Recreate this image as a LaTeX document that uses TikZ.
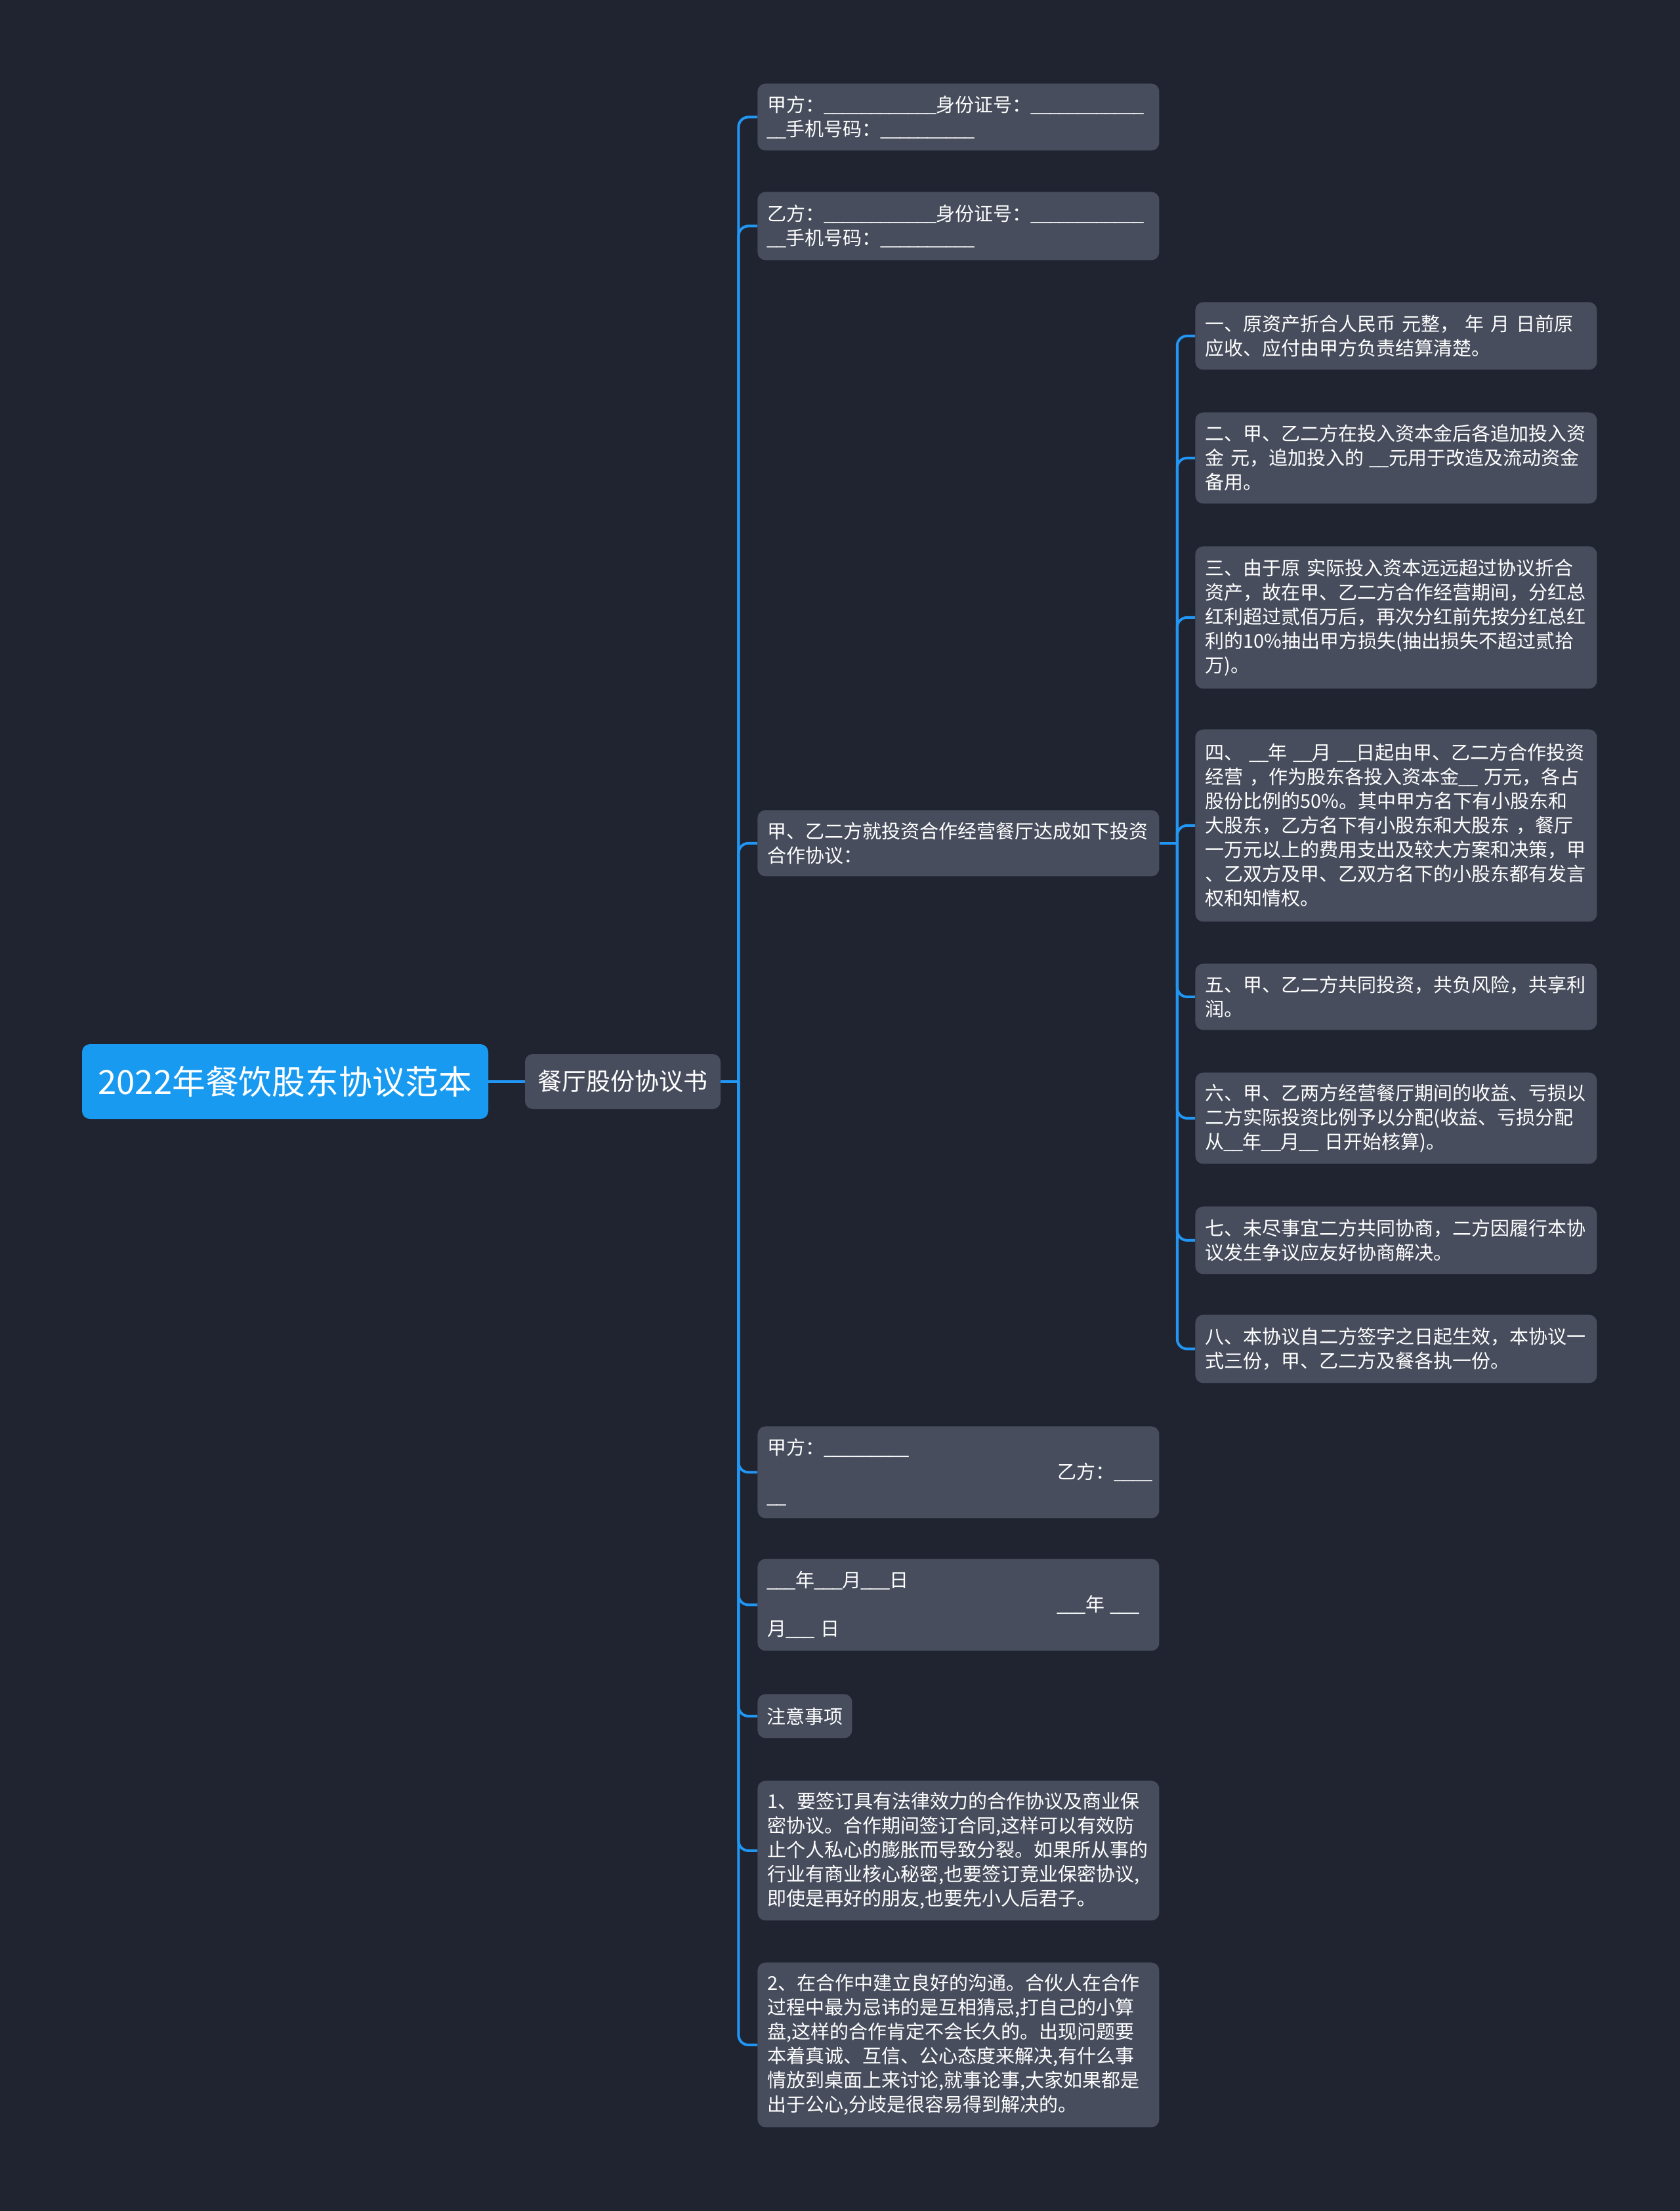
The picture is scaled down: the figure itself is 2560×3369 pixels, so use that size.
\documentclass[tikz,border=0pt]{standalone}
\usepackage{fontspec}
\setmainfont{Noto Sans CJK SC}
\definecolor{bgc}{RGB}{32,35,48}
\definecolor{nodegrey}{RGB}{71,77,93}
\definecolor{rootblue}{RGB}{24,154,240}
\definecolor{linkblue}{RGB}{33,150,243}
\newcommand\usc{\makebox[0.49em]{\_}}
\ExplSyntaxOn
\cs_new:Npn \blank #1 { \prg_replicate:nn {#1} {\usc} }
\ExplSyntaxOff
\tikzset{
  box/.style={fill=nodegrey, rounded corners=6pt, text=white, anchor=north west,
    inner xsep=7.5pt, inner ysep=0pt, align=left, text width=291pt,
    font=\fontsize{14.5pt}{18.5pt}\selectfont},
  conn/.style={draw=linkblue, line width=2pt, rounded corners=7.5pt},
}
\begin{document}
\begin{tikzpicture}[x=0.5pt,y=-0.5pt]
\fill[bgc] (0,0) rectangle (2560,3369);
\useasboundingbox (0,0) rectangle (2560,3369);

\node[fill=rootblue, rounded corners=6pt, text=white, minimum width=309.5pt, minimum height=57pt,
  inner sep=0pt, font=\fontsize{25.4pt}{30pt}\selectfont] (root) at (434.5,1648) {2022年餐饮股东协议范本};
\node[fill=nodegrey, rounded corners=6pt, text=white, minimum width=149pt, minimum height=42pt,
  inner sep=0pt, font=\fontsize{18.5pt}{22pt}\selectfont] (l1) at (949,1648) {餐厅股份协议书};

% level 2
\node[box, minimum height=51pt] (a) at (1154,127) {甲方：\blank{12}身份证号：\blank{12}\\\blank{2}手机号码：\blank{10}};
\node[box, minimum height=52pt] (b) at (1154,292) {乙方：\blank{12}身份证号：\blank{12}\\\blank{2}手机号码：\blank{10}};
\node[box, minimum height=50.5pt] (c) at (1154,1234) {甲、乙二方就投资合作经营餐厅达成如下投资\\合作协议：};
\node[box, minimum height=70pt] (d) at (1154,2173) {甲方：\blank{9}\\\hspace*{221pt}乙方：\blank{4}\\\blank{2}};
\node[box, minimum height=70pt] (e) at (1154,2375) {\blank{3}年\blank{3}月\blank{3}日\\\hspace*{221pt}\blank{3}年~\blank{3}\\月\blank{3}~日};
\node[box, text width=, inner xsep=7pt, minimum height=33.5pt] (f) at (1154,2581) {注意事项};
\node[box, minimum height=106.5pt] (g) at (1154,2713) {1、要签订具有法律效力的合作协议及商业保\\密协议。合作期间签订合同,这样可以有效防\\止个人私心的膨胀而导致分裂。如果所从事的\\行业有商业核心秘密,也要签订竞业保密协议,\\即使是再好的朋友,也要先小人后君子。};
\node[box, minimum height=125.5pt] (h) at (1154,2990) {2、在合作中建立良好的沟通。合伙人在合作\\过程中最为忌讳的是互相猜忌,打自己的小算\\盘,这样的合作肯定不会长久的。出现问题要\\本着真诚、互信、公心态度来解决,有什么事\\情放到桌面上来讨论,就事论事,大家如果都是\\出于公心,分歧是很容易得到解决的。};

% level 3
\node[box, minimum height=51.5pt] (c1) at (1821,460) {一、原资产折合人民币~元整，~年~月~日前原\\应收、应付由甲方负责结算清楚。};
\node[box, minimum height=69.5pt] (c2) at (1821,628) {二、甲、乙二方在投入资本金后各追加投入资\\金~元，追加投入的~\blank{2}元用于改造及流动资金\\备用。};
\node[box, minimum height=108.5pt] (c3) at (1821,832) {三、由于原~实际投入资本远远超过协议折合\\资产，故在甲、乙二方合作经营期间，分红总\\红利超过贰佰万后，再次分红前先按分红总红\\利的10\%抽出甲方损失(抽出损失不超过贰拾\\万)。};
\node[box, minimum height=146.5pt] (c4) at (1821,1111) {四、~\blank{2}年~\blank{2}月~\blank{2}日起由甲、乙二方合作投资\\经营~，作为股东各投入资本金\blank{2}~万元，各占\\股份比例的50\%。其中甲方名下有小股东和\\大股东，乙方名下有小股东和大股东~，餐厅\\一万元以上的费用支出及较大方案和决策，甲\\、乙双方及甲、乙双方名下的小股东都有发言\\权和知情权。};
\node[box, minimum height=50.5pt] (c5) at (1821,1468) {五、甲、乙二方共同投资，共负风险，共享利\\润。};
\node[box, minimum height=69.5pt] (c6) at (1821,1634) {六、甲、乙两方经营餐厅期间的收益、亏损以\\二方实际投资比例予以分配(收益、亏损分配\\从\blank{2}年\blank{2}月\blank{2}~日开始核算)。};
\node[box, minimum height=51.5pt] (c7) at (1821,1838) {七、未尽事宜二方共同协商，二方因履行本协\\议发生争议应友好协商解决。};
\node[box, minimum height=52pt] (c8) at (1821,2003) {八、本协议自二方签字之日起生效，本协议一\\式三份，甲、乙二方及餐各执一份。};

% connectors
\coordinate (j1) at ([xshift=13.5pt]l1.east);
\coordinate (j2) at ([xshift=13.5pt]c.east);
\draw[conn] (root.east) -- (l1.west);
\draw[conn] (l1.east) -- (j1);
\foreach \n in {a,b,c,d,e,f,g,h} \draw[conn] (j1) |- (\n.west);
\draw[conn] (c.east) -- (j2);
\foreach \n in {c1,c2,c3,c4,c5,c6,c7,c8} \draw[conn] (j2) |- (\n.west);
\end{tikzpicture}
\end{document}
